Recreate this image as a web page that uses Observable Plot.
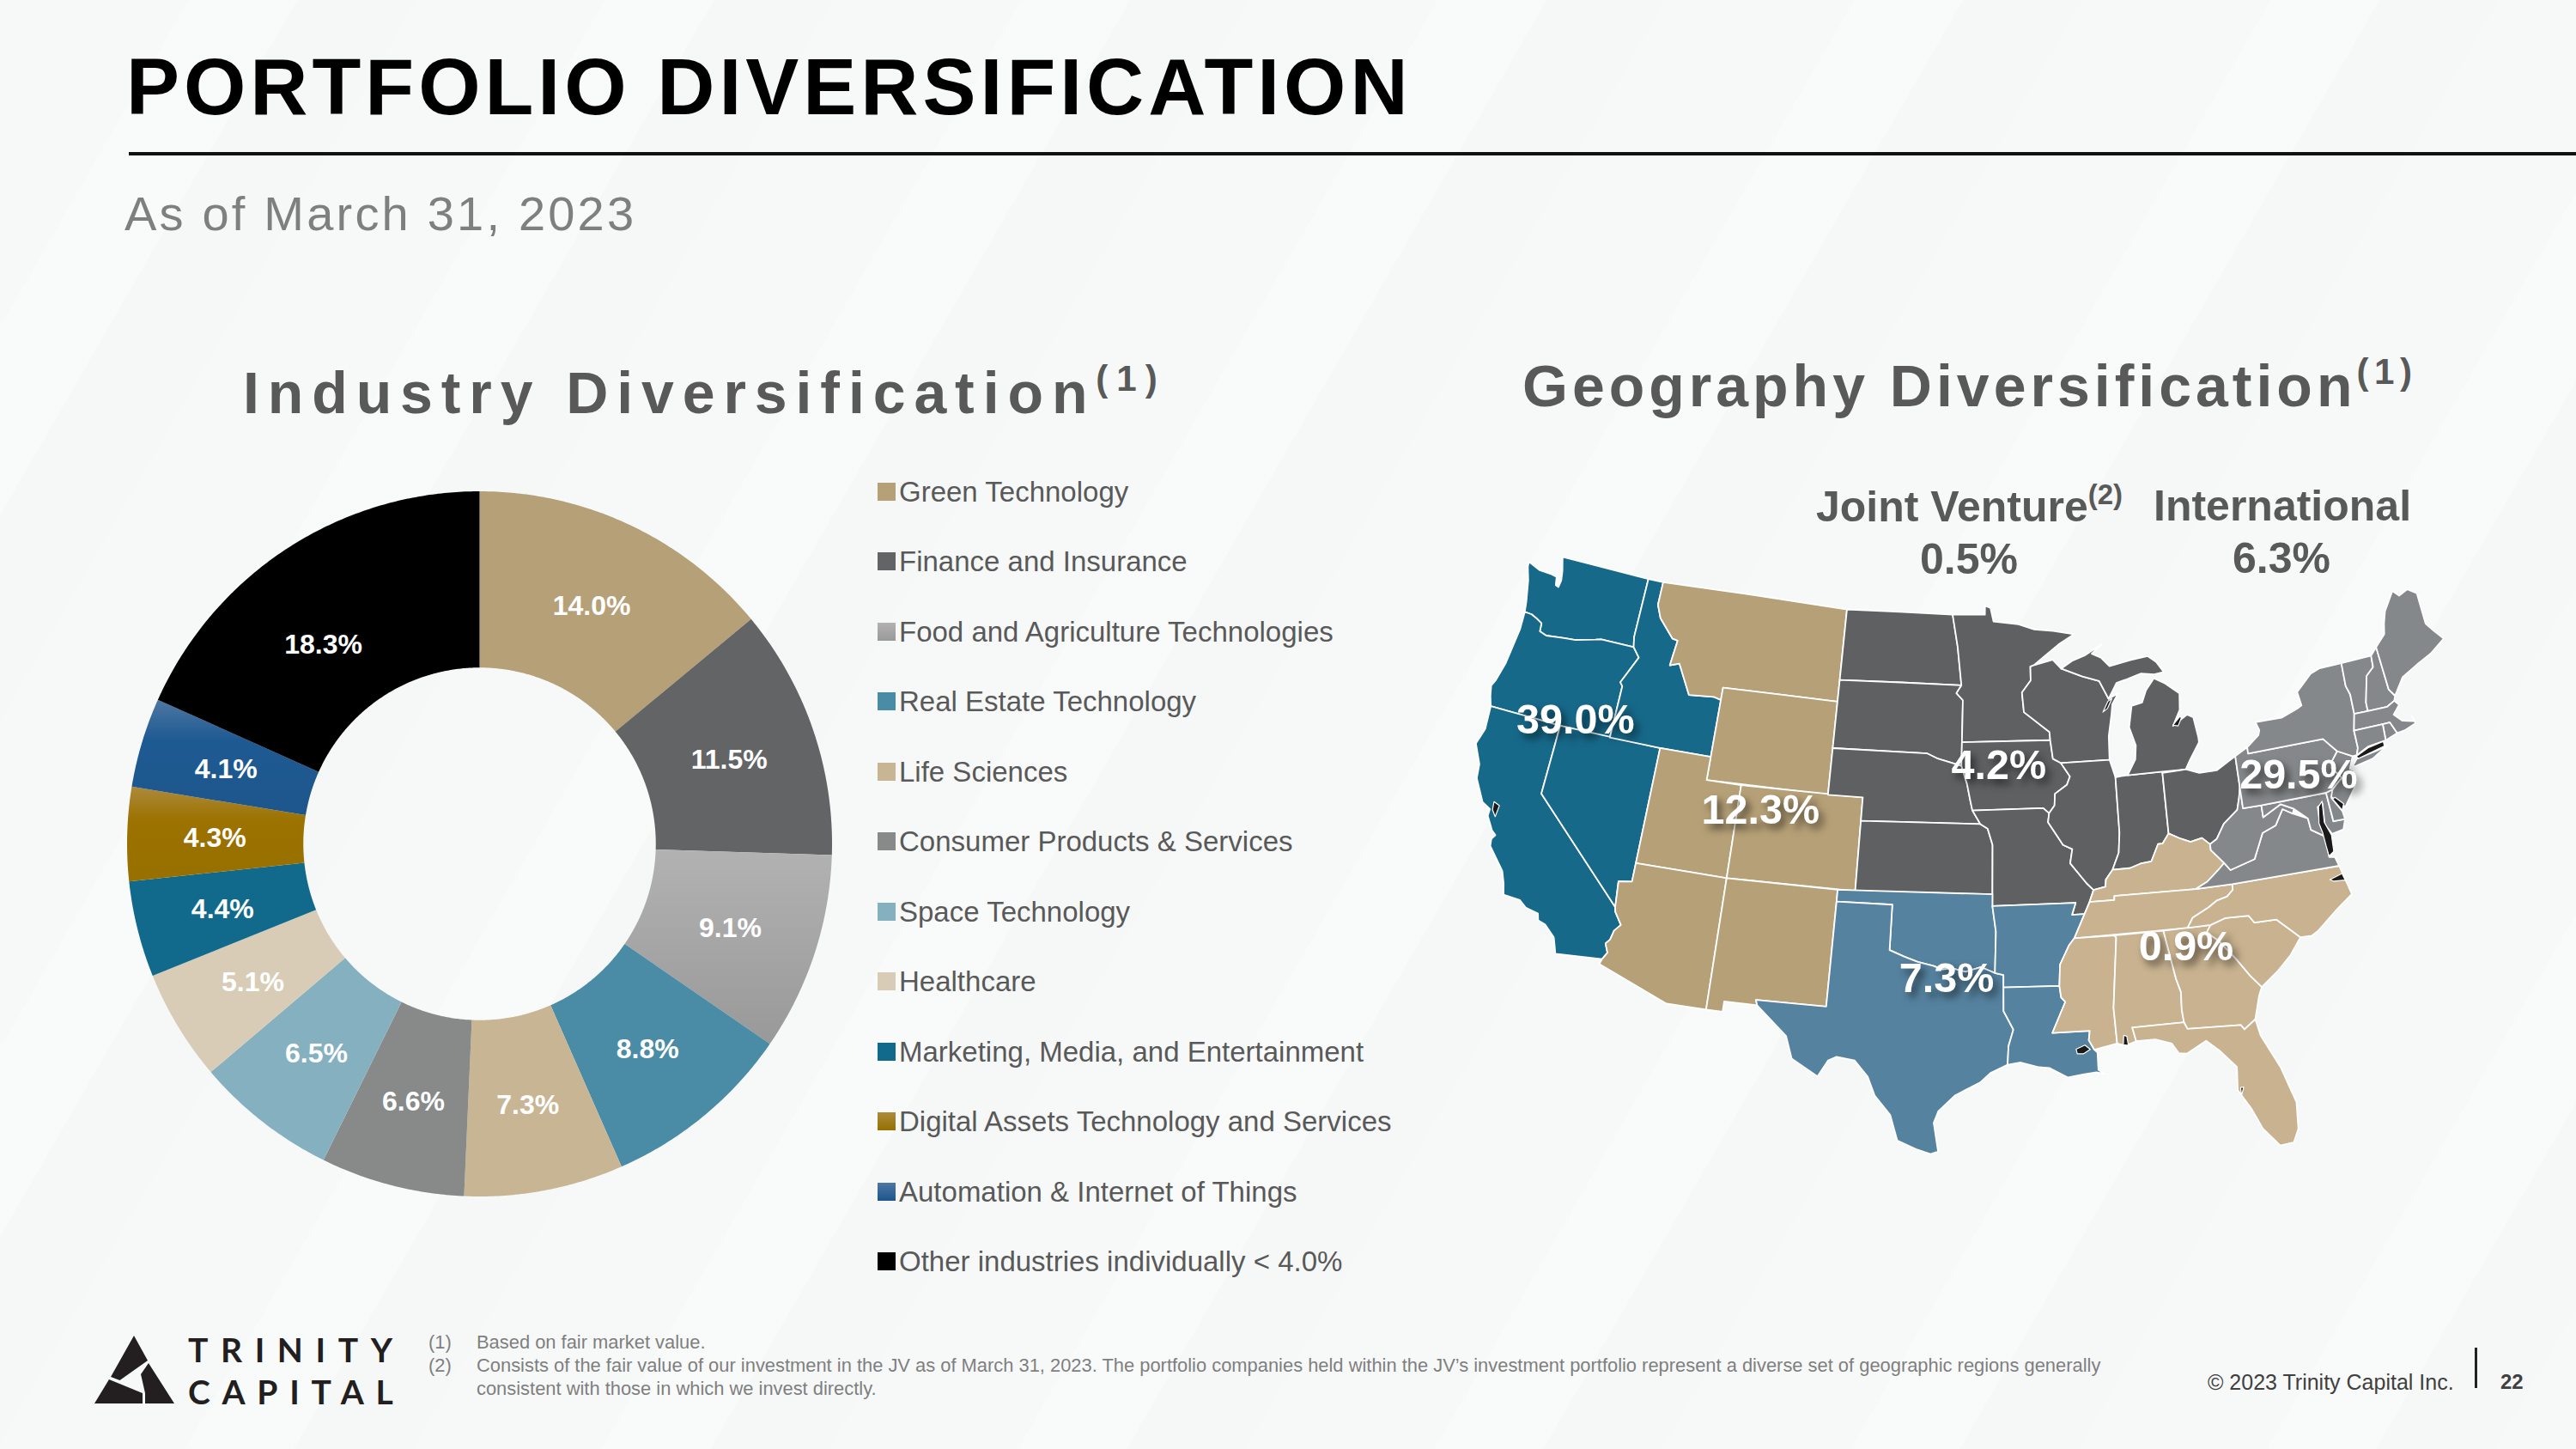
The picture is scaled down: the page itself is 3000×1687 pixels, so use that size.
<!DOCTYPE html>
<html><head><meta charset="utf-8">
<style>
html,body{margin:0;padding:0;width:3000px;height:1687px;overflow:hidden}
body{position:relative;font-family:"Liberation Sans",Arial,sans-serif;background:#f7f9f9;
background-image:repeating-linear-gradient(120deg,rgba(255,255,255,0) 0 190px,rgba(255,255,255,.22) 190px 300px,rgba(238,241,241,.12) 300px 420px)}
.t{position:absolute;white-space:nowrap;line-height:1}
.plot{position:absolute}
sup{font-size:.62em;line-height:0;position:relative;top:-.12em;vertical-align:baseline}
sup.s{top:-.62em}
</style>
<script src="https://cdn.jsdelivr.net/npm/d3@7"></script>
<script src="https://cdn.jsdelivr.net/npm/@observablehq/plot@0.6"></script>
</head><body>
<div class="t" style="left:147px;top:54.5px;font-size:93px;font-weight:700;letter-spacing:5px;color:#000">PORTFOLIO DIVERSIFICATION</div>
<div style="position:absolute;left:150px;top:177px;width:2850px;height:4px;background:#111"></div>
<div class="t" style="left:145px;top:221px;font-size:56px;letter-spacing:3.2px;color:#7f7f7f">As of March 31, 2023</div>
<div class="t" style="left:283px;top:423px;font-size:68px;font-weight:700;letter-spacing:9.9px;color:#595959">Industry Diversification<sup class="s">(1)</sup></div>
<div class="t" style="left:1773px;top:415px;font-size:68px;font-weight:700;letter-spacing:5px;color:#595959">Geography Diversification<sup class="s" style="letter-spacing:6.5px">(1)</sup></div>
<div class="t" style="left:2115px;top:565px;font-size:50px;font-weight:700;color:#595959">Joint Venture<sup class="s" style="font-size:.66em">(2)</sup></div>
<div class="t" style="left:2508px;top:564px;font-size:50px;font-weight:700;color:#595959">International</div>
<div class="t" style="left:2293px;top:626px;transform:translateX(-50%);font-size:50px;font-weight:700;color:#595959">0.5%</div>
<div class="t" style="left:2657px;top:625px;transform:translateX(-50%);font-size:50px;font-weight:700;color:#595959">6.3%</div>
<div id="donut" class="plot" style="left:148px;top:572px"></div>
<div id="legend"></div>
<div id="map" class="plot" style="left:1700px;top:620px"></div>

<svg style="position:absolute;left:0;top:1540px" width="480" height="110" viewBox="0 1540 480 110">
<g fill="#231f20"><polygon points="156,1555 172,1584 139.5,1607 129,1603"/><polygon points="127,1606 166,1622 166,1634 110,1634"/><polygon points="173,1587 203,1634 169,1634 169,1622 164,1600"/></g>
</svg>
<div class="t" style="left:219px;top:1552px;font-family:Lato,sans-serif;font-size:39px;font-weight:700;letter-spacing:14.6px;color:#231f20">TRINITY</div>
<div class="t" style="left:219px;top:1601px;font-family:Lato,sans-serif;font-size:39px;font-weight:700;letter-spacing:13.7px;color:#231f20">CAPITAL</div>
<div class="t" style="left:499px;top:1552px;font-size:21.9px;color:#7f7f7f">(1)</div>
<div class="t" style="left:555px;top:1552px;font-size:21.9px;color:#7f7f7f">Based on fair market value.</div>
<div class="t" style="left:499px;top:1579px;font-size:21.9px;color:#7f7f7f">(2)</div>
<div class="t" style="left:555px;top:1579px;font-size:21.9px;color:#7f7f7f">Consists of the fair value of our investment in the JV as of March 31, 2023. The portfolio companies held within the JV’s investment portfolio represent a diverse set of geographic regions generally</div>
<div class="t" style="left:555px;top:1606px;font-size:21.9px;color:#7f7f7f">consistent with those in which we invest directly.</div>
<div class="t" style="left:2571px;top:1597px;font-size:25px;color:#404040">© 2023 Trinity Capital Inc.</div>
<div style="position:absolute;left:2882px;top:1569px;width:3px;height:47px;background:#222"></div>
<div class="t" style="left:2912px;top:1597px;font-size:24px;font-weight:700;color:#404040">22</div>

<script>
/* ---------- Industry diversification ---------- */
const industries = ["Green Technology","Finance and Insurance","Food and Agriculture Technologies","Real Estate Technology","Life Sciences","Consumer Products & Services","Space Technology","Healthcare","Marketing, Media, and Entertainment","Digital Assets Technology and Services","Automation & Internet of Things","Other industries individually < 4.0%"];
const shares = [14.0,11.5,9.1,8.8,7.3,6.6,6.5,5.1,4.4,4.3,4.1,18.3];
const industryColors = ["#b6a078","#636466","#a5a5a5","#4a8ba5","#c8b594","#888a8a","#85b0c0","#d8ccb7","#116a8b","#9c7200","#1e5a92","#000000"];
const gradientTops = {2:"#b2b2b2",9:"#ad8a3c",10:"#4d77a3"};
const gradientEnds = {2:"#999999",9:"#977000",10:"#1d568c"};

/* ---------- Geography diversification ---------- */
const regions = ["West","Mountain","Midwest","Southwest","Southeast","Northeast"];
const regionColors = ["#17698a","#b6a077","#5f6062","#55829f","#c8b28f","#85888a"];
const regionShares = ["39.0%","12.3%","4.2%","7.3%","0.9%","29.5%"];
const labelLon = [-119.23,-107.75,-94.27,-96.97,-84.5,-77.12];
const labelLat = [42.4,40.05,42.5,33.4,34.2,40.7];

const westStates = [
 [[-122.76,49],[-117.03,49],[-117.04,46.42],[-116.92,45.995],[-118.98,46],[-119.3,45.93],[-120.5,45.7],[-121.2,45.65],[-122.3,45.55],[-122.75,45.65],[-122.8,46],[-123.2,46.15],[-123.55,46.25],[-124,46.27],[-124.1,46.7],[-124.2,47],[-124.4,47.6],[-124.7,48.17],[-124.73,48.38],[-123.9,48.17],[-123.1,48.15],[-122.75,48.1],[-122.65,47.75],[-122.45,47.7],[-122.4,48],[-122.5,48.4]],
 [[-124.2,42],[-120,42],[-117.03,42],[-117.03,44.25],[-117.2,44.4],[-116.46,45.6],[-116.92,45.995],[-118.98,46],[-119.3,45.93],[-120.5,45.7],[-121.2,45.65],[-122.3,45.55],[-122.75,45.65],[-122.8,46],[-123.2,46.15],[-123.55,46.25],[-124,46.27],[-123.95,45.5],[-124.05,44.7],[-124.15,43.9],[-124.4,43.1],[-124.55,42.84],[-124.4,42.4]],
 [[-124.2,42],[-120,42],[-120,39],[-114.63,35],[-114.57,34.8],[-114.14,34.3],[-114.43,34],[-114.53,33.6],[-114.72,33.4],[-114.52,33.03],[-114.72,32.72],[-117.12,32.53],[-117.25,32.85],[-117.4,33.2],[-118,33.65],[-118.4,33.75],[-118.5,34.03],[-119.2,34.15],[-119.6,34.4],[-120.5,34.45],[-120.65,34.9],[-120.9,35.4],[-121.9,36.3],[-121.95,36.6],[-121.8,36.8],[-122.05,36.95],[-122.5,37.5],[-122.5,37.8],[-123,38],[-123.7,38.9],[-123.8,39.5],[-124.35,40.3],[-124.1,41]],
 [[-120,42],[-114.04,42],[-114.04,36.2],[-114.75,36.1],[-114.63,35],[-120,39]],
 [[-117.03,49],[-116.05,49],[-116.05,48],[-115.7,47.45],[-114.7,46.7],[-114.35,46.65],[-114.5,45.55],[-113.95,45.7],[-113.45,45.05],[-113,44.45],[-111.5,44.55],[-111.05,44.47],[-111.05,42],[-114.04,42],[-117.03,42],[-117.03,44.25],[-117.2,44.4],[-116.46,45.6],[-116.92,45.995],[-117.04,46.42]]
];
const mountainStates = [
 [[-116.05,49],[-104.05,49],[-104.05,45],[-111.05,45],[-111.05,44.47],[-111.5,44.55],[-113,44.45],[-113.45,45.05],[-113.95,45.7],[-114.5,45.55],[-114.35,46.65],[-114.7,46.7],[-115.7,47.45],[-116.05,48]],
 [[-111.05,45],[-104.05,45],[-104.05,41],[-111.05,41]],
 [[-114.04,42],[-111.05,42],[-111.05,41],[-109.05,41],[-109.05,37],[-114.04,37]],
 [[-109.05,41],[-102.05,41],[-102.05,37],[-109.05,37]],
 [[-114.04,37],[-109.05,37],[-109.05,31.33],[-111.07,31.33],[-114.81,32.49],[-114.72,32.72],[-114.52,33.03],[-114.72,33.4],[-114.53,33.6],[-114.43,34],[-114.14,34.3],[-114.57,34.8],[-114.63,35],[-114.75,36.1],[-114.04,36.2]],
 [[-109.05,37],[-103,37],[-103.04,32],[-106.62,32],[-106.53,31.78],[-108.21,31.78],[-108.21,31.33],[-109.05,31.33]]
];
const midwestStates = [
 [[-104.05,49],[-97.23,49],[-96.85,47.6],[-96.56,45.94],[-104.05,45.94]],
 [[-104.05,45.94],[-96.56,45.94],[-96.85,45.6],[-96.45,45.3],[-96.45,43.5],[-96.45,42.49],[-97.9,42.8],[-98.5,43],[-104.05,43]],
 [[-104.05,43],[-98.5,43],[-97.9,42.8],[-96.45,42.49],[-96.1,41.7],[-95.9,41],[-95.77,40.58],[-95.31,40],[-102.05,40],[-102.05,41],[-104.05,41]],
 [[-102.05,40],[-95.31,40],[-94.9,39.8],[-94.62,39.1],[-94.62,37],[-102.05,37]],
 [[-97.23,49],[-95.15,49],[-95.15,49.38],[-94.8,49.3],[-94.6,48.7],[-93,48.55],[-92,48.3],[-90.8,48.2],[-89.5,48],[-90.5,47.6],[-92.1,46.75],[-92.3,46.7],[-92.3,46.1],[-92.85,45.6],[-92.75,44.75],[-91.25,43.85],[-91.22,43.5],[-96.45,43.5],[-96.45,45.3],[-96.85,45.6],[-96.56,45.94],[-96.85,47.6]],
 [[-96.45,43.5],[-91.22,43.5],[-91.1,42.7],[-90.65,42.5],[-90.15,41.9],[-90.35,41.55],[-91.05,41.2],[-91.1,40.7],[-91.42,40.38],[-91.75,40.61],[-95.77,40.58],[-95.9,41],[-96.1,41.7],[-96.45,42.49]],
 [[-95.77,40.58],[-91.75,40.61],[-91.42,40.38],[-91.5,40],[-90.7,39],[-90.2,38.8],[-90.35,38.2],[-89.5,37.3],[-89.15,37],[-89.4,36.5],[-89.7,36],[-90.37,36],[-90.15,36.5],[-94.62,36.5],[-94.62,37],[-94.62,39.1],[-94.9,39.8],[-95.31,40]],
 [[-92.1,46.75],[-90.9,46.95],[-90.4,46.55],[-89.1,46.15],[-88.1,45.9],[-87.6,45.1],[-87,45.3],[-87.4,44.85],[-87.5,44.4],[-87.75,43.5],[-87.8,42.49],[-90.65,42.5],[-91.1,42.7],[-91.22,43.5],[-91.25,43.85],[-92.75,44.75],[-92.85,45.6],[-92.3,46.1],[-92.3,46.7]],
 [[-90.65,42.5],[-87.8,42.49],[-87.53,41.72],[-87.53,39.35],[-87.65,38.5],[-88.05,37.8],[-88.45,37.4],[-88.5,37.1],[-89.15,37],[-89.5,37.3],[-90.35,38.2],[-90.2,38.8],[-90.7,39],[-91.5,40],[-91.42,40.38],[-91.1,40.7],[-91.05,41.2],[-90.35,41.55],[-90.15,41.9]],
 [[-87.53,41.72],[-87.2,41.75],[-86.82,41.76],[-84.81,41.76],[-84.81,39.1],[-85.2,38.7],[-85.45,38.7],[-85.9,38],[-86.5,37.95],[-87.1,37.8],[-88.05,37.8],[-87.65,38.5],[-87.53,39.35]],
 [[-86.82,41.76],[-84.81,41.76],[-83.45,41.73],[-83.15,42.1],[-82.5,42.8],[-82.5,43],[-82.65,43.9],[-83,44.05],[-83.9,43.65],[-83.4,44.3],[-83.3,45],[-84.1,45.5],[-84.75,45.78],[-85.3,45.3],[-85.6,44.8],[-86.25,44.7],[-86.5,43.8],[-86.2,43],[-86.3,42.4]],
 [[-90.4,46.55],[-89.1,46.15],[-88.1,45.9],[-87.6,45.1],[-87.05,45.75],[-86.5,45.85],[-85.5,46.05],[-84.7,45.95],[-84.1,46],[-84.5,46.47],[-85,46.77],[-86.1,46.67],[-87.4,46.5],[-87.9,46.9],[-88.45,47.1],[-87.8,47.47],[-88.9,47.05],[-89.7,46.85]],
 [[-84.81,41.7],[-83.45,41.73],[-82.7,41.5],[-81.7,41.5],[-80.52,41.98],[-80.52,40.64],[-80.65,40.2],[-80.85,39.7],[-81.7,39.2],[-82.2,38.6],[-82.6,38.42],[-83,38.73],[-83.65,38.63],[-84.25,38.85],[-84.81,39.1]]
];
const southwestStates = [
 [[-103,37],[-94.62,37],[-94.62,36.5],[-94.43,35.4],[-94.48,33.64],[-95.2,33.9],[-96,33.7],[-96.7,33.85],[-97.2,33.8],[-97.7,33.95],[-98.5,34.1],[-99.2,34.3],[-100,34.56],[-100,36.5],[-103,36.5]],
 [[-103,36.5],[-100,36.5],[-100,34.56],[-99.2,34.3],[-98.5,34.1],[-97.7,33.95],[-97.2,33.8],[-96.7,33.85],[-96,33.7],[-95.2,33.9],[-94.48,33.64],[-94.04,33.55],[-94.04,33.02],[-94.04,32],[-93.55,31.2],[-93.8,30.5],[-93.85,29.7],[-94.7,29.35],[-95.2,28.95],[-96.4,28.4],[-97.2,27.7],[-97.4,27.2],[-97.15,25.96],[-97.5,25.85],[-98.2,26.05],[-99.1,26.4],[-99.5,27.5],[-100.3,28.3],[-100.7,29.1],[-101.4,29.77],[-102.3,29.88],[-102.7,29.7],[-103.15,28.98],[-104.5,29.65],[-104.9,30.6],[-106.53,31.78],[-106.62,32],[-103.04,32]],
 [[-94.62,36.5],[-90.15,36.5],[-90.37,36],[-89.7,36],[-90.3,35],[-90.6,34.7],[-91.1,33.9],[-91.17,33],[-94.04,33.02],[-94.04,33.55],[-94.48,33.64],[-94.43,35.4]],
 [[-94.04,33.02],[-91.17,33],[-91.1,32.5],[-90.9,32.3],[-91.6,31],[-89.73,31],[-89.8,30.6],[-89.55,30.18],[-89.4,30.05],[-89.4,29.8],[-89.4,29.3],[-89.1,29.1],[-89.5,29.2],[-90.1,29.15],[-90.9,29.05],[-91.8,29.5],[-92.3,29.55],[-93.2,29.78],[-93.85,29.7],[-93.8,30.5],[-93.55,31.2],[-94.04,32]]
];
const southeastStates = [
 [[-89.15,37],[-89.4,36.5],[-88.07,36.5],[-88.05,36.68],[-83.68,36.6],[-83,36.85],[-82.3,37.3],[-81.97,37.54],[-82.6,38.17],[-82.6,38.42],[-83,38.73],[-83.65,38.63],[-84.25,38.85],[-84.81,39.1],[-85.2,38.7],[-85.45,38.7],[-85.9,38],[-86.5,37.95],[-87.1,37.8],[-88.05,37.8],[-88.45,37.4],[-88.5,37.1]],
 [[-90.3,35],[-89.7,36],[-89.4,36.5],[-88.07,36.5],[-88.05,36.68],[-83.68,36.6],[-81.68,36.59],[-81.7,36.35],[-82.05,36.1],[-82.6,36],[-83.1,35.75],[-84,35.4],[-84.32,35]],
 [[-90.3,35],[-90.6,34.7],[-91.1,33.9],[-91.17,33],[-91.1,32.5],[-90.9,32.3],[-91.6,31],[-89.73,31],[-89.8,30.6],[-89.55,30.18],[-88.4,30.37],[-88.47,31.9],[-88.1,34.9],[-88.2,35]],
 [[-88.2,35],[-85.6,35],[-85.18,32.87],[-85,32.3],[-85.05,31.55],[-85,31],[-87.6,31],[-87.45,30.4],[-88,30.25],[-88.4,30.37],[-88.47,31.9],[-88.1,34.9]],
 [[-85.6,35],[-83.1,35],[-83.35,34.7],[-82.8,34.3],[-82,33.4],[-81.4,32.6],[-80.9,32.05],[-81.1,31.7],[-81.45,30.72],[-82.05,30.36],[-82.2,30.57],[-84.86,30.7],[-85,31],[-85.05,31.55],[-85,32.3],[-85.18,32.87]],
 [[-87.6,31],[-85,31],[-84.86,30.7],[-82.2,30.57],[-82.05,30.36],[-81.45,30.72],[-81.3,30],[-80.55,28.5],[-80.05,26.9],[-80.15,25.75],[-80.45,25.2],[-81.1,25.15],[-81.8,26],[-82.2,26.9],[-82.75,27.8],[-82.65,28.8],[-83.4,29.6],[-84,30.1],[-85,29.65],[-85.4,29.7],[-85.7,30.15],[-86.5,30.4],[-87.45,30.4]],
 [[-83.1,35],[-82.3,35.2],[-81.05,35.15],[-80.8,34.82],[-79.65,34.8],[-78.55,33.87],[-79.2,33.2],[-80,32.6],[-80.9,32.05],[-81.4,32.6],[-82,33.4],[-82.8,34.3],[-83.35,34.7]],
 [[-84.32,35],[-84,35.4],[-83.1,35.75],[-82.6,36],[-82.05,36.1],[-81.7,36.35],[-81.68,36.59],[-75.87,36.55],[-75.5,35.25],[-76.5,34.7],[-77.6,34],[-77.95,33.85],[-78.55,33.87],[-79.65,34.8],[-80.8,34.82],[-81.05,35.15],[-82.3,35.2],[-83.1,35]]
];
const northeastStates = [
 [[-83.68,36.6],[-83,36.85],[-82.3,37.3],[-81.97,37.54],[-81.68,37.2],[-80.3,37.5],[-79.65,38.55],[-78.87,38.77],[-78.35,39.4],[-77.83,39.13],[-77.05,38.8],[-77,38.3],[-76.3,37.9],[-76.3,37],[-76,36.95],[-75.87,36.55],[-81.68,36.59]],
 [[-82.6,38.17],[-81.97,37.54],[-81.68,37.2],[-80.3,37.5],[-79.65,38.55],[-78.87,38.77],[-78.35,39.4],[-77.83,39.13],[-77.72,39.32],[-78.4,39.62],[-79.48,39.2],[-79.48,39.72],[-80.52,39.72],[-80.52,40.64],[-80.65,40.2],[-80.85,39.7],[-81.7,39.2],[-82.2,38.6],[-82.6,38.42]],
 [[-79.48,39.72],[-75.79,39.72],[-75.7,38.46],[-75.05,38.45],[-75.25,38.03],[-75.9,37.95],[-76.2,38.4],[-76.1,39.3],[-76.4,39.2],[-76.45,38.4],[-76.3,37.9],[-77,38.3],[-77.05,38.8],[-77.72,39.32],[-78.4,39.62],[-79.48,39.2]],
 [[-75.79,39.72],[-75.4,39.8],[-75.55,39.45],[-75.1,38.8],[-75.05,38.45],[-75.7,38.46]],
 [[-74.7,41.36],[-73.9,41],[-74.2,40.5],[-74,40.4],[-74.1,39.75],[-74.9,38.95],[-75.55,39.5],[-75.4,39.8],[-75.1,40],[-74.75,40.2],[-75.2,40.7],[-75.1,41]],
 [[-80.52,41.98],[-79.76,42.27],[-79.76,42],[-75.35,42],[-75.1,41.75],[-74.7,41.36],[-75.1,41],[-75.2,40.7],[-74.75,40.2],[-75.1,40],[-75.4,39.8],[-75.79,39.72],[-79.48,39.72],[-80.52,39.72],[-80.52,40.64]],
 [[-79.76,42.27],[-79,42.7],[-78.9,42.9],[-79.05,43.27],[-77.5,43.25],[-76.5,43.5],[-76.2,43.6],[-76.3,44.2],[-75.3,44.85],[-74.7,45],[-73.35,45],[-73.4,44],[-73.25,43.6],[-73.27,42.75],[-73.5,42.05],[-73.5,41.3],[-73.65,41],[-73.9,41],[-74.7,41.36],[-75.1,41.75],[-75.35,42],[-79.76,42]],
 [[-74,40.6],[-73.7,40.85],[-72.6,40.97],[-71.9,41.07],[-72.8,40.7],[-73.9,40.55]],
 [[-73.35,45],[-71.5,45],[-71.55,44.5],[-72.05,44.2],[-72.45,43.1],[-72.46,42.73],[-73.27,42.75],[-73.25,43.6],[-73.4,44]],
 [[-71.5,45],[-71.08,45.3],[-70.97,43.4],[-70.7,43.07],[-70.82,42.87],[-71.3,42.7],[-72.46,42.73],[-72.45,43.1],[-72.05,44.2],[-71.55,44.5]],
 [[-71.08,45.3],[-70.4,45.75],[-70.25,46.2],[-70,46.7],[-69.23,47.46],[-68.9,47.18],[-68.3,47.35],[-67.8,47.07],[-67.8,45.7],[-67.45,45.3],[-67,44.85],[-68,44.4],[-69,44.1],[-70,43.75],[-70.7,43.07],[-70.97,43.4]],
 [[-73.5,42.05],[-73.27,42.75],[-72.46,42.73],[-71.3,42.7],[-70.82,42.87],[-70.6,42.65],[-71.05,42.3],[-70.65,41.95],[-70,41.8],[-70.05,42.05],[-69.95,41.7],[-70.65,41.53],[-71.12,41.5],[-71.38,42.02],[-71.8,42.02]],
 [[-71.8,42.02],[-71.38,42.02],[-71.12,41.5],[-71.85,41.32]],
 [[-73.5,42.05],[-71.8,42.02],[-71.85,41.32],[-72.9,41.25],[-73.65,41],[-73.5,41.3]]
];
const stateGroups = [westStates,mountainStates,midwestStates,southwestStates,southeastStates,northeastStates];
const waterBodies = [
 [[-76.1,39.4],[-76.35,39.2],[-76.5,38.5],[-76.4,38.1],[-76.35,37.5],[-76.3,37.05],[-76,37.2],[-75.95,37.9],[-76.2,38.5]],
 [[-73.7,40.95],[-72.9,41.2],[-72,41.3],[-72,41.1],[-72.8,40.98],[-73.6,40.85]],
 [[-90.45,30.25],[-90,30.4],[-89.75,30.2],[-90.1,30.03],[-90.4,30.05]],
 [[-83.9,43.68],[-83.45,44],[-83.35,43.95],[-83.6,43.62]],
 [[-88,44.55],[-87.65,45],[-87.4,45.1],[-87.7,44.7]],
 [[-75.5,39.4],[-75.1,38.85],[-74.95,39.1],[-75.35,39.45]],
 [[-88.05,30.7],[-87.9,30.65],[-87.85,30.25],[-88.1,30.3]],
 [[-76.5,36.05],[-75.8,36.2],[-75.7,35.9],[-76.3,35.95]],
 [[-122.4,38.15],[-122.05,38.05],[-122.1,37.55],[-122.35,37.8]],
 [[-82.6,27.9],[-82.45,27.9],[-82.6,27.55]]
];

/* ---------- donut, drawn with Plot.area through x/y scales ---------- */
const ends = d3.cumsum(shares);
const total = ends[ends.length-1];
const inner = 0.5, labelRadius = 0.75;
const labelNudgeX = {11:-0.034};
const labelNudgeY = {11:-0.06};
const slicePoints = [];
shares.forEach((s,i)=>{
  const a0 = (ends[i]-s)/total*2*Math.PI, a1 = ends[i]/total*2*Math.PI;
  const n = Math.max(2,Math.ceil((a1-a0)*120));
  for(let k=0;k<=n;k++){
    const a = a0+(a1-a0)*k/n;
    slicePoints.push({name:industries[i],xi:inner*Math.sin(a),yi:inner*Math.cos(a),xo:Math.sin(a),yo:Math.cos(a)});
  }
});
const sliceLabels = shares.map((s,i)=>{
  const a = (ends[i]-s/2)/total*2*Math.PI;
  return {x:labelRadius*Math.sin(a)+(labelNudgeX[i]||0),y:labelRadius*Math.cos(a)+(labelNudgeY[i]||0),text:s.toFixed(1)+"%"};
});
const fillFor = i => gradientTops[i] ? `url(#grad${i})` : industryColors[i];
const gradientDefs = () => {
  const svg = d3.create("svg:defs");
  for (const i of Object.keys(gradientTops)) {
    const g = svg.append("linearGradient").attr("id","grad"+i).attr("x1",0).attr("y1",0).attr("x2",0).attr("y2",1);
    g.append("stop").attr("offset","0%").attr("stop-color",gradientTops[i]);
    g.append("stop").attr("offset",i==="2"?"100%":"35%").attr("stop-color",i==="2"?gradientEnds[i]:industryColors[i]);
    g.append("stop").attr("offset","100%").attr("stop-color",gradientEnds[i]);
  }
  return svg.node();
};
const donut = Plot.plot({
  width:821,height:821,margin:0,
  x:{domain:[-1,1],axis:null},y:{domain:[-1,1],axis:null},
  color:{domain:industries,range:industries.map((_,i)=>fillFor(i))},
  style:{background:"transparent",overflow:"visible"},
  marks:[
    gradientDefs,
    Plot.area(slicePoints,{x1:"xi",y1:"yi",x2:"xo",y2:"yo",z:"name",fill:"name"}),
    Plot.text(sliceLabels,{x:"x",y:"y",dy:1.5,dx:-1,text:"text",fill:"white",fontSize:32,fontWeight:"bold",fontFamily:"Liberation Sans"})
  ]
});
document.getElementById("donut").append(donut);

/* ---------- legend ---------- */
const legend = document.getElementById("legend");
industries.forEach((name,i)=>{
  const y = 572 + i*81.5;
  const sw = document.createElement("div");
  sw.style.cssText = `position:absolute;left:1022px;top:${y-10.5}px;width:21px;height:21px;background:${gradientTops[i]?`linear-gradient(${gradientTops[i]},${gradientEnds[i]})`:industryColors[i]}`;
  const tx = document.createElement("div");
  tx.className = "t";
  tx.textContent = name;
  tx.style.cssText = `left:1047px;top:${y-16.5}px;font-size:33px;color:#595959`;
  legend.append(sw,tx);
});

/* ---------- map, drawn with Plot.geo through a stretched conic projection ---------- */
const mapLeft = 1700, mapTop = 620, kx = 1560, ky = 1550, tx0 = 2297, ty0 = 1996, shear = -0.01727;
const conic = d3.geoConicEqualArea().parallels([29.5,45.5]).rotate([96,0]).center([0,0]).scale(1500).translate([0,0]).precision(0.2);
const stretch = d3.geoTransform({point(x,y){
  const py = ty0-mapTop+y*ky/1500;
  this.stream.point(tx0-mapLeft+x*kx/1500+shear*(py-25), py);
}});
const slideProjection = {stream: s => conic.stream(stretch.stream(s))};
const toPolygon = ring => {
  const closed = [...ring, ring[0]];
  const f = {type:"Feature",geometry:{type:"Polygon",coordinates:[closed]}};
  if (d3.geoArea(f) > 2*Math.PI) f.geometry.coordinates[0].reverse();
  return f;
};
const stateFeatures = stateGroups.flatMap((g,i)=>g.map(r=>{const f=toPolygon(r);f.properties={region:regions[i]};return f;}));
const waterFeatures = waterBodies.map(toPolygon);
const mapLabels = regions.map((r,i)=>({lon:labelLon[i],lat:labelLat[i],text:regionShares[i]}));
const map = Plot.plot({
  width:1200,height:740,margin:0,
  projection:slideProjection,
  color:{domain:regions,range:regionColors},
  style:{background:"transparent",overflow:"visible"},
  marks:[
    Plot.geo(stateFeatures,{fill:d=>d.properties.region,stroke:"white",strokeWidth:1.8,strokeLinejoin:"round"}),
    Plot.geo(waterFeatures,{fill:"#1a1a1a",stroke:"white",strokeWidth:1.2}),
    Plot.text(mapLabels,{x:"lon",y:"lat",text:"text",fill:"white",fontSize:48.5,fontWeight:"bold",fontFamily:"Liberation Sans",imageFilter:"drop-shadow(5px 6px 5px rgba(0,0,0,.55))"})
  ]
});
document.getElementById("map").append(map);
</script>
</body></html>
